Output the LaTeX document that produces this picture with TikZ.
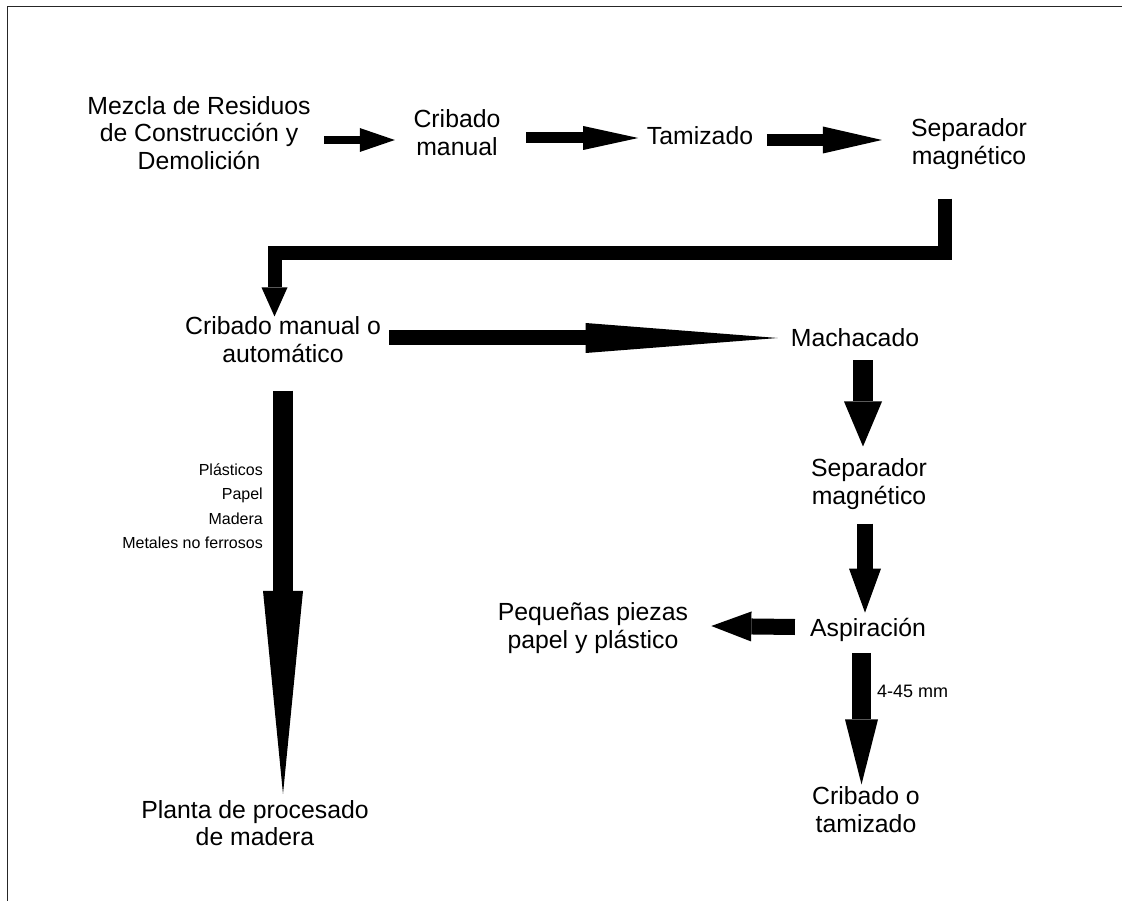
\documentclass[tikz,border=0pt]{standalone}
\usepackage{fontspec}
\setmainfont{Liberation Sans}
\usetikzlibrary{arrows.meta}
\begin{document}
\begin{tikzpicture}[x=1pt,y=-1pt,
  lbl/.style={inner sep=0pt, align=center, font=\fontsize{24.8}{27.5}\selectfont},
  small/.style={inner sep=0pt, font=\fontsize{16}{24.4}\selectfont},
  fat/.style n args={3}{line width=#1pt, -{Triangle[length=#3pt,width=#2pt,line width=0pt]}},
]
\useasboundingbox (0,0) rectangle (1122,901);
\draw[line width=1pt, black!85] (7.5,901) -- (7.5,6.5) -- (1122,6.5);

% nodes
\node[lbl] (mezcla) at (199,133) {Mezcla de Residuos\\de Construcción y\\Demolición};
\node[lbl] (crib1) at (457,132.5) {Cribado\\manual};
\node[lbl] (tam) at (700,136) {Tamizado};
\node[lbl] (sep1) at (969,144) {Separador\\magnético};
\node[lbl] (crib2) at (283,339.5) {Cribado manual o\\automático};
\node[lbl] (mach) at (855,338) {Machacado};
\node[lbl] (sep2) at (869,484) {Separador\\magnético};
\node[lbl] (asp) at (868,630) {Aspiración};
\node[lbl] (peq) at (593,628) {Pequeñas piezas\\papel y plástico};
\node[lbl] (crib3) at (866,809.5) {Cribado o\\tamizado};
\node[lbl] (planta) at (255,823) {Planta de procesado\\de madera};
\node[small, anchor=east, align=right] (mats) at (263,506) {Plásticos\\Papel\\Madera\\Metales no ferrosos};
\node[small, font=\fontsize{18}{20}\selectfont, anchor=west] (mm) at (877,691) {4-45 mm};

% top row arrows
\draw[fat={8}{24}{35}] ([xshift=13.4pt,yshift=-7pt]mezcla.east) -- ([xshift=-18.6pt,yshift=-7.5pt]crib1.west);
\draw[fat={11}{24}{55}] ([xshift=25.6pt,yshift=-5.5pt]crib1.east) -- ([xshift=-8.5pt,yshift=-2pt]tam.west);
\draw[fat={12}{27}{59}] ([xshift=13.5pt,yshift=-4pt]tam.east) -- ([xshift=-29pt,yshift=4pt]sep1.west);

% bent arrow
\coordinate (b0) at ([xshift=-24pt,yshift=-29pt]sep1.south);
\coordinate (b1) at ([xshift=-8.5pt]crib2.north);
\coordinate (bar) at (0,253);
\draw[fat={14}{26}{29}, line join=miter] (b0) -- (b0 |- bar) -- (b1 |- bar) -- (b1);

% left column
\draw[fat={20}{40}{203}, shorten >=6pt] ([yshift=-28pt]crib2.south) -- (crib2.south |- planta.north);
\draw[fat={15}{30}{192}] ([xshift=8pt,yshift=1.5pt]crib2.east) -- ([xshift=-13pt]mach.west);

% right column
\draw[fat={20}{38}{45}] ([xshift=8pt,yshift=-13pt]mach.south) -- ([xshift=-6pt,yshift=12pt]sep2.north);
\draw[fat={16}{32}{44}] ([xshift=-4pt,yshift=-14pt]sep2.south) -- ([xshift=-3pt,yshift=5.5pt]asp.north);
\draw[fat={19}{33}{65}] ([xshift=-6.5pt,yshift=-11pt]asp.south) -- ([xshift=-4.5pt,yshift=2pt]crib3.north);
\draw[fat={16}{30}{40}] ([xshift=-15pt,yshift=3pt]asp.west) -- ([xshift=23pt,yshift=2pt]peq.east);
\end{tikzpicture}
\end{document}
